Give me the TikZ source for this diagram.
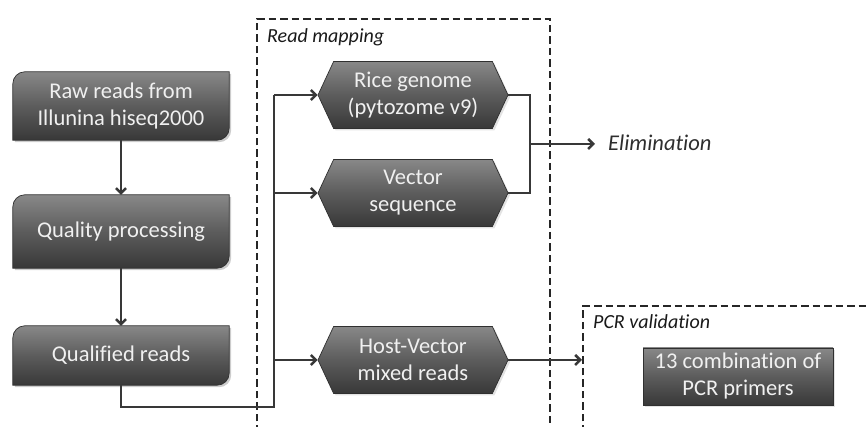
\documentclass[tikz,border=0pt]{standalone}
\usepackage{fontspec}
\setmainfont[Ligatures=NoCommon]{Carlito}
\usetikzlibrary{arrows.meta,shapes.symbols,backgrounds,shadows,calc}

\definecolor{boxtop}{HTML}{888888}
\definecolor{boxmid}{HTML}{5C5C5C}
\definecolor{boxbot}{HTML}{383838}
\definecolor{boxedge}{HTML}{303030}
\definecolor{linecol}{HTML}{383838}
\definecolor{labelcol}{HTML}{2E2E2E}

\tikzset{
  boxtext/.style={text=white!94!black, font=\fontsize{22.5}{27}\selectfont, align=center, inner sep=0pt},
  paint/.style={top color=boxtop, bottom color=boxbot, middle color=boxmid, draw=boxedge, line width=0.7pt},
  softshadow/.style={drop shadow={shadow xshift=2pt, shadow yshift=-2pt, opacity=0.22}},
  stepbox/.style={boxtext, rectangle, minimum width=216pt},
  hexbox/.style={boxtext, paint, softshadow, shape=signal, signal to=west and east,
    signal pointer angle=130, minimum width=190pt, minimum height=67pt},
  pcrbox/.style={boxtext, paint, softshadow, rectangle, minimum width=190pt, minimum height=57pt},
  link/.style={draw=linecol, line width=2.5pt},
  arrow/.style={link, -{Straight Barb[length=5pt,width=10pt]}},
  region/.style={draw=black!85, dash pattern=on 7.5pt off 4pt, line width=1.4pt},
  regionlabel/.style={font=\fontsize{20}{24}\selectfont\itshape, text=black!90, anchor=west, inner sep=0pt},
  outlabel/.style={font=\fontsize{22.5}{27}\selectfont\itshape, text=labelcol, anchor=west, inner sep=0pt},
}

% outline of a box with rounded top-left and bottom-right corners, shifted by (#2,#3)
\newcommand\diagpath[3]{([shift={(#2,#3)}]#1.south west)
  -- ([shift={(#2,#3-12pt)}]#1.north west)
  arc[start angle=180, end angle=90, radius=12pt]
  -- ([shift={(#2,#3)}]#1.north east)
  -- ([shift={(#2,#3+12pt)}]#1.south east)
  arc[start angle=0, end angle=-90, radius=12pt]
  -- cycle}

\begin{document}
\begin{tikzpicture}[x=1pt, y=1pt]
\useasboundingbox (0,0) rectangle (868,427);

% dashed regions
\draw[region] (257,-6) -- (257,408) -- (550,408) -- (550,-6);
\node[regionlabel] (maplabel) at (267,390) {Read mapping};
\draw[region] (583,-6) -- (583,121) -- (874,121);
\node[regionlabel] (pcrlabel) at (593,105) {PCR validation};

% preprocessing steps
\node[stepbox, minimum height=68pt] (raw) at (121,321) {Raw reads from\\Illunina hiseq2000};
\node[stepbox, minimum height=73pt] (qual) at (121,195.5) {Quality processing};
\node[stepbox, minimum height=59pt] (qreads) at (121,71.5) {Qualified reads};

\begin{scope}[on background layer]
  \foreach \b in {raw,qual,qreads}{
    \fill[black, opacity=0.2] \diagpath{\b}{2pt}{-2pt};
    \path[paint] \diagpath{\b}{0pt}{0pt};
  }
\end{scope}

% mapping targets
\node[hexbox] (rice) at (413,332) {Rice genome\\(pytozome v9)};
\node[hexbox] (vector) at (413,234) {Vector\\sequence};
\node[hexbox] (host) at (413,67) {Host-Vector\\mixed reads};

% validation
\node[pcrbox] (pcr) at (738,50.5) {13 combination of\\PCR primers};

\node[outlabel] (elim) at (608,284) {Elimination};

% connectors
\coordinate (busbot) at (274,20);
\coordinate (brk) at (530,283);
\coordinate (pcredge) at (582,67);

\draw[arrow] (raw) -- (qual);
\draw[arrow] (qual) -- (qreads);
\draw[link, line join=miter] (qreads.south) |- (busbot) -- (busbot |- rice.west);
\draw[arrow] (busbot |- rice.west) -- (rice.west);
\draw[arrow] (busbot |- vector.west) -- (vector.west);
\draw[arrow] (busbot |- host.west) -- (host.west);

\draw[link, line join=miter] (rice.east) -- (rice.east -| brk) -- (vector.east -| brk) -- (vector.east);
\draw[arrow] (brk) -- ([xshift=-13pt]elim.west |- brk);
\draw[arrow] (host.east) -- (pcredge);
\end{tikzpicture}
\end{document}
